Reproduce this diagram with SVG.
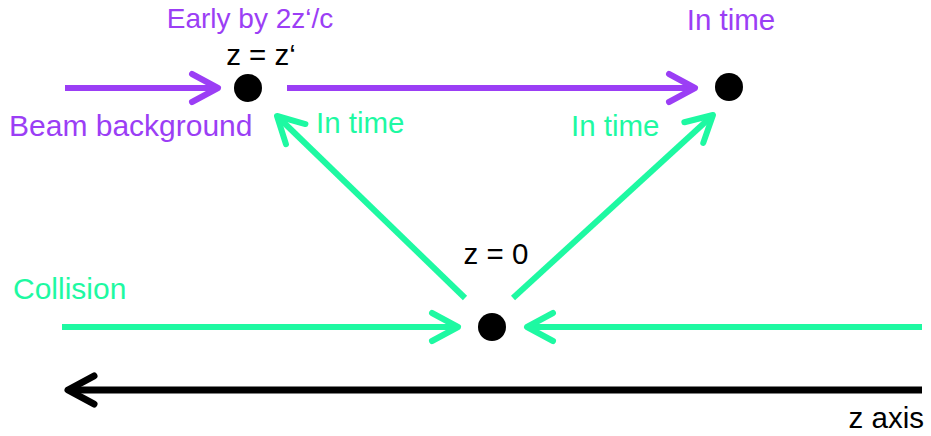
<svg xmlns="http://www.w3.org/2000/svg" width="931" height="436" viewBox="0 0 931 436">
<style>
text{font-family:"Liberation Sans",Arial,sans-serif;font-size:29.5px}
.big{font-size:30px}
.sm{font-size:28px}
.p{fill:#9b3ef5}.g{fill:#1ef9a2}.k{fill:#000}
.lp{stroke:#9b3ef5;stroke-width:6;fill:none}
.lg{stroke:#1ef9a2;stroke-width:6;fill:none}
.lk{stroke:#000;stroke-width:7;fill:none}
</style>
<defs>
<marker id="ap" markerUnits="userSpaceOnUse" markerWidth="40" markerHeight="40" viewBox="-34 -20 40 40" refX="0" refY="0" orient="auto" overflow="visible">
<path d="M-26,-14 L0,0 L-26,14" fill="none" stroke="#9b3ef5" stroke-width="6" stroke-linecap="round" stroke-linejoin="round"/>
</marker>
<marker id="ag" markerUnits="userSpaceOnUse" markerWidth="40" markerHeight="40" viewBox="-34 -20 40 40" refX="0" refY="0" orient="auto" overflow="visible">
<path d="M-26,-14 L0,0 L-26,14" fill="none" stroke="#1ef9a2" stroke-width="6" stroke-linecap="round" stroke-linejoin="round"/>
</marker>
<marker id="ak" markerUnits="userSpaceOnUse" markerWidth="40" markerHeight="40" viewBox="-34 -20 40 40" refX="0" refY="0" orient="auto" overflow="visible">
<path d="M-26,-14 L0,0 L-26,14" fill="none" stroke="#000" stroke-width="7" stroke-linecap="round" stroke-linejoin="round"/>
</marker>
</defs>
<g id="connectors">
<line class="lp" x1="65" y1="88" x2="218" y2="88" marker-end="url(#ap)"/>
<line class="lp" x1="287" y1="88" x2="695" y2="88" marker-end="url(#ap)"/>
<line class="lg" x1="62" y1="327" x2="458" y2="327" marker-end="url(#ag)"/>
<line class="lg" x1="922" y1="327" x2="527" y2="327" marker-end="url(#ag)"/>
<line class="lg" x1="465" y1="298" x2="277" y2="116" marker-end="url(#ag)"/>
<line class="lg" x1="513" y1="298" x2="713" y2="115" marker-end="url(#ag)"/>
<line class="lk" x1="922" y1="390" x2="68" y2="390" marker-end="url(#ak)"/>
</g>
<g id="node-zprime">
<circle cx="248" cy="88" r="14" fill="#000"/>
<text class="k" x="261" y="65" text-anchor="middle">z = z‘</text>
<text class="p sm" x="250" y="28" text-anchor="middle">Early by 2z‘/c</text>
</g>
<g id="node-right">
<circle cx="729" cy="87" r="14" fill="#000"/>
<text class="p" x="731" y="30" text-anchor="middle">In time</text>
</g>
<g id="node-z0">
<circle cx="492" cy="327" r="14" fill="#000"/>
<text class="k" x="496" y="264" text-anchor="middle">z = 0</text>
</g>
<g id="labels">
<text class="p big" x="9" y="136">Beam background</text>
<text class="g" x="316" y="133">In time</text>
<text class="g" x="571" y="136">In time</text>
<text class="g big" x="13" y="299">Collision</text>
<text class="k" x="924" y="428" text-anchor="end">z axis</text>
</g>
</svg>
